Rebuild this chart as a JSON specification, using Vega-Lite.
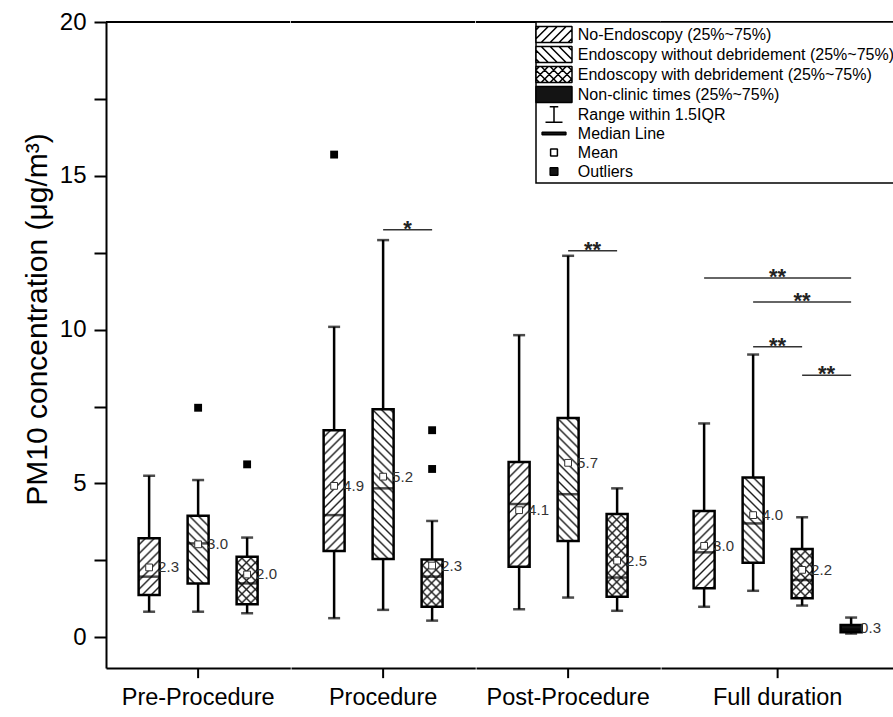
{
  "$schema": "https://vega.github.io/schema/vega-lite/v6.json",
  "background": "white",
  "padding": {"left": 22, "top": 10, "right": 0, "bottom": 0},
  "bounds": "flush",
  "params": [
    {"name": "hatch", "value": [
      {"offset": 0, "color": "rgba(30,30,30,0)"},
      {"offset": 0.022, "color": "rgba(30,30,30,0)"}, {"offset": 0.0312, "color": "#1e1e1e"}, {"offset": 0.04, "color": "rgba(30,30,30,0)"},
      {"offset": 0.062, "color": "rgba(30,30,30,0)"}, {"offset": 0.0712, "color": "#1e1e1e"}, {"offset": 0.08, "color": "rgba(30,30,30,0)"},
      {"offset": 0.102, "color": "rgba(30,30,30,0)"}, {"offset": 0.1112, "color": "#1e1e1e"}, {"offset": 0.12, "color": "rgba(30,30,30,0)"},
      {"offset": 0.142, "color": "rgba(30,30,30,0)"}, {"offset": 0.1512, "color": "#1e1e1e"}, {"offset": 0.16, "color": "rgba(30,30,30,0)"},
      {"offset": 0.182, "color": "rgba(30,30,30,0)"}, {"offset": 0.1912, "color": "#1e1e1e"}, {"offset": 0.2, "color": "rgba(30,30,30,0)"},
      {"offset": 0.222, "color": "rgba(30,30,30,0)"}, {"offset": 0.2312, "color": "#1e1e1e"}, {"offset": 0.24, "color": "rgba(30,30,30,0)"},
      {"offset": 0.262, "color": "rgba(30,30,30,0)"}, {"offset": 0.2712, "color": "#1e1e1e"}, {"offset": 0.28, "color": "rgba(30,30,30,0)"},
      {"offset": 0.302, "color": "rgba(30,30,30,0)"}, {"offset": 0.3112, "color": "#1e1e1e"}, {"offset": 0.32, "color": "rgba(30,30,30,0)"},
      {"offset": 0.342, "color": "rgba(30,30,30,0)"}, {"offset": 0.3512, "color": "#1e1e1e"}, {"offset": 0.36, "color": "rgba(30,30,30,0)"},
      {"offset": 0.382, "color": "rgba(30,30,30,0)"}, {"offset": 0.3912, "color": "#1e1e1e"}, {"offset": 0.4, "color": "rgba(30,30,30,0)"},
      {"offset": 0.422, "color": "rgba(30,30,30,0)"}, {"offset": 0.4312, "color": "#1e1e1e"}, {"offset": 0.44, "color": "rgba(30,30,30,0)"},
      {"offset": 0.462, "color": "rgba(30,30,30,0)"}, {"offset": 0.4712, "color": "#1e1e1e"}, {"offset": 0.48, "color": "rgba(30,30,30,0)"},
      {"offset": 0.502, "color": "rgba(30,30,30,0)"}, {"offset": 0.5112, "color": "#1e1e1e"}, {"offset": 0.52, "color": "rgba(30,30,30,0)"},
      {"offset": 0.542, "color": "rgba(30,30,30,0)"}, {"offset": 0.5512, "color": "#1e1e1e"}, {"offset": 0.56, "color": "rgba(30,30,30,0)"},
      {"offset": 0.582, "color": "rgba(30,30,30,0)"}, {"offset": 0.5912, "color": "#1e1e1e"}, {"offset": 0.6, "color": "rgba(30,30,30,0)"},
      {"offset": 0.622, "color": "rgba(30,30,30,0)"}, {"offset": 0.6312, "color": "#1e1e1e"}, {"offset": 0.64, "color": "rgba(30,30,30,0)"},
      {"offset": 0.662, "color": "rgba(30,30,30,0)"}, {"offset": 0.6712, "color": "#1e1e1e"}, {"offset": 0.68, "color": "rgba(30,30,30,0)"},
      {"offset": 0.702, "color": "rgba(30,30,30,0)"}, {"offset": 0.7112, "color": "#1e1e1e"}, {"offset": 0.72, "color": "rgba(30,30,30,0)"},
      {"offset": 0.742, "color": "rgba(30,30,30,0)"}, {"offset": 0.7512, "color": "#1e1e1e"}, {"offset": 0.76, "color": "rgba(30,30,30,0)"},
      {"offset": 0.782, "color": "rgba(30,30,30,0)"}, {"offset": 0.7912, "color": "#1e1e1e"}, {"offset": 0.8, "color": "rgba(30,30,30,0)"},
      {"offset": 0.822, "color": "rgba(30,30,30,0)"}, {"offset": 0.8312, "color": "#1e1e1e"}, {"offset": 0.84, "color": "rgba(30,30,30,0)"},
      {"offset": 0.862, "color": "rgba(30,30,30,0)"}, {"offset": 0.8712, "color": "#1e1e1e"}, {"offset": 0.88, "color": "rgba(30,30,30,0)"},
      {"offset": 0.902, "color": "rgba(30,30,30,0)"}, {"offset": 0.9112, "color": "#1e1e1e"}, {"offset": 0.92, "color": "rgba(30,30,30,0)"},
      {"offset": 0.942, "color": "rgba(30,30,30,0)"}, {"offset": 0.9512, "color": "#1e1e1e"}, {"offset": 0.96, "color": "rgba(30,30,30,0)"},
      {"offset": 0.982, "color": "rgba(30,30,30,0)"}, {"offset": 0.9912, "color": "#1e1e1e"}, {"offset": 1, "color": "rgba(30,30,30,0)"}
    ]}
  ],
  "data": {"values": [
    {"kind": "box", "period": "Pre-Procedure", "group": "No-Endoscopy", "lower": 0.83, "q1": 1.37, "median": 1.97, "q3": 3.22, "upper": 5.25, "mean": 2.27},
    {"kind": "box", "period": "Pre-Procedure", "group": "Endoscopy without debridement", "lower": 0.83, "q1": 1.75, "median": 3.05, "q3": 3.95, "upper": 5.11, "mean": 3.02},
    {"kind": "box", "period": "Pre-Procedure", "group": "Endoscopy with debridement", "lower": 0.78, "q1": 1.07, "median": 1.75, "q3": 2.62, "upper": 3.24, "mean": 2.04},
    {"kind": "box", "period": "Procedure", "group": "No-Endoscopy", "lower": 0.62, "q1": 2.8, "median": 3.97, "q3": 6.73, "upper": 10.09, "mean": 4.92},
    {"kind": "box", "period": "Procedure", "group": "Endoscopy without debridement", "lower": 0.89, "q1": 2.54, "median": 4.84, "q3": 7.41, "upper": 12.91, "mean": 5.22},
    {"kind": "box", "period": "Procedure", "group": "Endoscopy with debridement", "lower": 0.54, "q1": 0.99, "median": 1.97, "q3": 2.53, "upper": 3.78, "mean": 2.33},
    {"kind": "box", "period": "Post-Procedure", "group": "No-Endoscopy", "lower": 0.91, "q1": 2.29, "median": 4.33, "q3": 5.7, "upper": 9.82, "mean": 4.13},
    {"kind": "box", "period": "Post-Procedure", "group": "Endoscopy without debridement", "lower": 1.29, "q1": 3.13, "median": 4.65, "q3": 7.13, "upper": 12.4, "mean": 5.67},
    {"kind": "box", "period": "Post-Procedure", "group": "Endoscopy with debridement", "lower": 0.86, "q1": 1.32, "median": 1.94, "q3": 4.01, "upper": 4.84, "mean": 2.49},
    {"kind": "box", "period": "Full duration", "group": "No-Endoscopy", "lower": 0.99, "q1": 1.59, "median": 2.76, "q3": 4.1, "upper": 6.95, "mean": 2.97},
    {"kind": "box", "period": "Full duration", "group": "Endoscopy without debridement", "lower": 1.51, "q1": 2.42, "median": 3.7, "q3": 5.19, "upper": 9.19, "mean": 3.97},
    {"kind": "box", "period": "Full duration", "group": "Endoscopy with debridement", "lower": 1.03, "q1": 1.27, "median": 1.86, "q3": 2.87, "upper": 3.9, "mean": 2.19},
    {"kind": "box", "period": "Full duration", "group": "Non-clinic times", "lower": 0.12, "q1": 0.16, "median": 0.25, "q3": 0.4, "upper": 0.64, "mean": 0.29},
    {"kind": "outlier", "period": "Pre-Procedure", "group": "Endoscopy without debridement", "value": 7.46},
    {"kind": "outlier", "period": "Pre-Procedure", "group": "Endoscopy with debridement", "value": 5.62},
    {"kind": "outlier", "period": "Procedure", "group": "No-Endoscopy", "value": 15.69},
    {"kind": "outlier", "period": "Procedure", "group": "Endoscopy with debridement", "value": 6.73},
    {"kind": "outlier", "period": "Procedure", "group": "Endoscopy with debridement", "value": 5.47},
    {"kind": "sig", "pair": "s1", "period": "Procedure", "group": "Endoscopy without debridement", "level": 13.25},
    {"kind": "sig", "pair": "s1", "period": "Procedure", "group": "Endoscopy with debridement", "level": 13.25},
    {"kind": "sig", "pair": "s2", "period": "Post-Procedure", "group": "Endoscopy without debridement", "level": 12.56},
    {"kind": "sig", "pair": "s2", "period": "Post-Procedure", "group": "Endoscopy with debridement", "level": 12.56},
    {"kind": "sig", "pair": "s3", "period": "Full duration", "group": "No-Endoscopy", "level": 11.68},
    {"kind": "sig", "pair": "s3", "period": "Full duration", "group": "Non-clinic times", "level": 11.68},
    {"kind": "sig", "pair": "s4", "period": "Full duration", "group": "Endoscopy without debridement", "level": 10.9},
    {"kind": "sig", "pair": "s4", "period": "Full duration", "group": "Non-clinic times", "level": 10.9},
    {"kind": "sig", "pair": "s5", "period": "Full duration", "group": "Endoscopy without debridement", "level": 9.44},
    {"kind": "sig", "pair": "s5", "period": "Full duration", "group": "Endoscopy with debridement", "level": 9.44},
    {"kind": "sig", "pair": "s6", "period": "Full duration", "group": "Endoscopy with debridement", "level": 8.52},
    {"kind": "sig", "pair": "s6", "period": "Full duration", "group": "Non-clinic times", "level": 8.52},
    {"kind": "star", "period": "Procedure", "group": "Endoscopy without debridement", "to": "Endoscopy with debridement", "level": 13.25, "label": "*"},
    {"kind": "star", "period": "Post-Procedure", "group": "Endoscopy without debridement", "to": "Endoscopy with debridement", "level": 12.56, "label": "**"},
    {"kind": "star", "period": "Full duration", "group": "No-Endoscopy", "to": "Non-clinic times", "level": 11.68, "label": "**"},
    {"kind": "star", "period": "Full duration", "group": "Endoscopy without debridement", "to": "Non-clinic times", "level": 10.9, "label": "**"},
    {"kind": "star", "period": "Full duration", "group": "Endoscopy without debridement", "to": "Endoscopy with debridement", "level": 9.44, "label": "**"},
    {"kind": "star", "period": "Full duration", "group": "Endoscopy with debridement", "to": "Non-clinic times", "level": 8.52, "label": "**"}
  ]},
  "facet": {
    "column": {
      "field": "period", "type": "nominal",
      "sort": ["Pre-Procedure", "Procedure", "Post-Procedure", "Full duration"],
      "header": {"title": null, "labelOrient": "bottom", "labelFontSize": 23.5, "labelFont": "Liberation Sans", "labelColor": "black", "labelPadding": 18}
    }
  },
  "spacing": 0,
  "resolve": {"scale": {"x": "independent"}},
  "spec": {
    "width": {"step": 49},
    "height": 646,
    "layer": [
      {
        "transform": [{"filter": "datum.kind === 'box'"}],
        "mark": {"type": "rule", "strokeWidth": 2.5, "color": "black"},
        "encoding": {
          "x": {"field": "group", "type": "nominal", "sort": ["No-Endoscopy", "Endoscopy without debridement", "Endoscopy with debridement", "Non-clinic times"], "title": null,
                "scale": {"paddingInner": 0, "paddingOuter": 0.38},
                "axis": {"labels": false, "ticks": false, "title": null, "domainWidth": 2, "domainColor": "black"}},
          "y": {"field": "lower", "type": "quantitative", "title": "PM10 concentration (μg/m³)",
                "scale": {"domain": [-1, 20], "nice": false, "zero": false},
                "axis": {"values": [0, 2.5, 5, 7.5, 10, 12.5, 15, 17.5, 20], "labelExpr": "datum.value % 5 === 0 ? datum.label : ''",
                         "tickSize": 12, "tickWidth": 2, "tickColor": "black", "domainWidth": 2, "domainColor": "black",
                         "labelFontSize": 24, "labelPadding": 8, "labelColor": "black", "labelFont": "Liberation Sans",
                         "titleFontSize": 30, "titleFontWeight": "normal", "titleColor": "black", "titleFont": "Liberation Sans", "titlePadding": 7, "titleY": 297, "grid": false}},
          "y2": {"field": "upper"}
        }
      },
      {
        "transform": [{"filter": "datum.kind === 'box'"}],
        "mark": {"type": "tick", "size": 12, "thickness": 2.5, "color": "black"},
        "encoding": {
          "x": {"field": "group", "type": "nominal", "sort": ["No-Endoscopy", "Endoscopy without debridement", "Endoscopy with debridement", "Non-clinic times"], "title": null},
          "y": {"field": "lower", "type": "quantitative"}
        }
      },
      {
        "transform": [{"filter": "datum.kind === 'box'"}],
        "mark": {"type": "tick", "size": 12, "thickness": 2.5, "color": "black"},
        "encoding": {
          "x": {"field": "group", "type": "nominal", "sort": ["No-Endoscopy", "Endoscopy without debridement", "Endoscopy with debridement", "Non-clinic times"], "title": null},
          "y": {"field": "upper", "type": "quantitative"}
        }
      },
      {
        "transform": [{"filter": "datum.kind === 'box'"}],
        "mark": {"type": "bar", "size": 21},
        "encoding": {
          "x": {"field": "group", "type": "nominal", "sort": ["No-Endoscopy", "Endoscopy without debridement", "Endoscopy with debridement", "Non-clinic times"], "title": null},
          "y": {"field": "q1", "type": "quantitative"},
          "y2": {"field": "q3"},
          "fill": {"condition": {"test": "datum.group === 'Non-clinic times'", "value": "#141414"}, "value": "white"}
        }
      },
      {
        "transform": [{"filter": "datum.kind === 'box' && (datum.group === 'No-Endoscopy' || datum.group === 'Endoscopy with debridement')"}],
        "mark": {"type": "bar", "size": 21},
        "encoding": {
          "x": {"field": "group", "type": "nominal", "sort": ["No-Endoscopy", "Endoscopy without debridement", "Endoscopy with debridement", "Non-clinic times"], "title": null},
          "y": {"field": "q1", "type": "quantitative"},
          "y2": {"field": "q3"},
          "fill": {"value": {"expr": "{gradient: 'linear', x1: 0, y1: 0, x2: 21*222.7/(441+pow((datum.q3-datum.q1)*30.78,2)), y2: (datum.q3-datum.q1)*30.78*222.7/(441+pow((datum.q3-datum.q1)*30.78,2)), stops: hatch}"}}
        }
      },
      {
        "transform": [{"filter": "datum.kind === 'box' && (datum.group === 'Endoscopy without debridement' || datum.group === 'Endoscopy with debridement')"}],
        "mark": {"type": "bar", "size": 21},
        "encoding": {
          "x": {"field": "group", "type": "nominal", "sort": ["No-Endoscopy", "Endoscopy without debridement", "Endoscopy with debridement", "Non-clinic times"], "title": null},
          "y": {"field": "q1", "type": "quantitative"},
          "y2": {"field": "q3"},
          "fill": {"value": {"expr": "{gradient: 'linear', x1: 0, y1: 1, x2: 21*222.7/(441+pow((datum.q3-datum.q1)*30.78,2)), y2: 1-(datum.q3-datum.q1)*30.78*222.7/(441+pow((datum.q3-datum.q1)*30.78,2)), stops: hatch}"}}
        }
      },
      {
        "transform": [{"filter": "datum.kind === 'box'"}],
        "mark": {"type": "bar", "size": 21, "fill": "transparent", "stroke": "black", "strokeWidth": 2.5},
        "encoding": {
          "x": {"field": "group", "type": "nominal", "sort": ["No-Endoscopy", "Endoscopy without debridement", "Endoscopy with debridement", "Non-clinic times"], "title": null},
          "y": {"field": "q1", "type": "quantitative"},
          "y2": {"field": "q3"}
        }
      },
      {
        "transform": [{"filter": "datum.kind === 'box'"}],
        "mark": {"type": "tick", "size": 21, "thickness": 2.5, "color": "black"},
        "encoding": {
          "x": {"field": "group", "type": "nominal", "sort": ["No-Endoscopy", "Endoscopy without debridement", "Endoscopy with debridement", "Non-clinic times"], "title": null},
          "y": {"field": "median", "type": "quantitative"}
        }
      },
      {
        "transform": [{"filter": "datum.kind === 'box' && datum.group !== 'Non-clinic times'"}],
        "mark": {"type": "point", "shape": "square", "size": 46, "filled": true, "fill": "white", "stroke": "#333333", "strokeWidth": 1, "opacity": 1},
        "encoding": {
          "x": {"field": "group", "type": "nominal", "sort": ["No-Endoscopy", "Endoscopy without debridement", "Endoscopy with debridement", "Non-clinic times"], "title": null},
          "y": {"field": "mean", "type": "quantitative"}
        }
      },
      {
        "transform": [{"filter": "datum.kind === 'box'"}],
        "mark": {"type": "text", "align": "left", "baseline": "middle", "dx": 9, "fontSize": 15, "font": "Liberation Sans", "color": "#333333"},
        "encoding": {
          "x": {"field": "group", "type": "nominal", "sort": ["No-Endoscopy", "Endoscopy without debridement", "Endoscopy with debridement", "Non-clinic times"], "title": null},
          "y": {"field": "mean", "type": "quantitative"},
          "text": {"field": "mean", "type": "quantitative", "format": ".1f"}
        }
      },
      {
        "transform": [{"filter": "datum.kind === 'outlier'"}],
        "mark": {"type": "point", "shape": "square", "size": 62, "filled": true, "color": "black", "opacity": 1},
        "encoding": {
          "x": {"field": "group", "type": "nominal", "sort": ["No-Endoscopy", "Endoscopy without debridement", "Endoscopy with debridement", "Non-clinic times"], "title": null},
          "y": {"field": "value", "type": "quantitative"}
        }
      },
      {
        "transform": [{"filter": "datum.kind === 'sig'"}],
        "mark": {"type": "line", "color": "#333333", "strokeWidth": 1.5},
        "encoding": {
          "x": {"field": "group", "type": "nominal", "sort": ["No-Endoscopy", "Endoscopy without debridement", "Endoscopy with debridement", "Non-clinic times"], "title": null, "bandPosition": 0.5},
          "y": {"field": "level", "type": "quantitative"},
          "detail": {"field": "pair", "type": "nominal"}
        }
      },
      {
        "transform": [{"filter": "datum.kind === 'star' && !(datum.to === 'Non-clinic times' && datum.group !== 'Endoscopy with debridement')"}],
        "mark": {"type": "text", "align": "center", "baseline": "alphabetic", "dy": 6, "fontSize": 22, "fontWeight": "bold", "font": "Liberation Sans", "color": "#222222"},
        "encoding": {
          "x": {"field": "group", "type": "nominal", "sort": ["No-Endoscopy", "Endoscopy without debridement", "Endoscopy with debridement", "Non-clinic times"], "title": null, "bandPosition": 1},
          "y": {"field": "level", "type": "quantitative"},
          "text": {"field": "label"}
        }
      },
      {
        "transform": [{"filter": "datum.kind === 'star' && datum.group === 'No-Endoscopy'"}],
        "mark": {"type": "text", "align": "center", "baseline": "alphabetic", "dy": 6, "fontSize": 22, "fontWeight": "bold", "font": "Liberation Sans", "color": "#222222"},
        "encoding": {
          "x": {"field": "group", "type": "nominal", "sort": ["No-Endoscopy", "Endoscopy without debridement", "Endoscopy with debridement", "Non-clinic times"], "title": null, "bandPosition": 2},
          "y": {"field": "level", "type": "quantitative"},
          "text": {"field": "label"}
        }
      },
      {
        "transform": [{"filter": "datum.kind === 'star' && datum.group === 'Endoscopy without debridement' && datum.to === 'Non-clinic times'"}],
        "mark": {"type": "text", "align": "center", "baseline": "alphabetic", "dy": 6, "fontSize": 22, "fontWeight": "bold", "font": "Liberation Sans", "color": "#222222"},
        "encoding": {
          "x": {"field": "group", "type": "nominal", "sort": ["No-Endoscopy", "Endoscopy without debridement", "Endoscopy with debridement", "Non-clinic times"], "title": null, "bandPosition": 1.5},
          "y": {"field": "level", "type": "quantitative"},
          "text": {"field": "label"}
        }
      },
      {
        "transform": [{"filter": "datum.kind === 'box' && datum.group === 'Endoscopy without debridement' && datum.period !== 'Full duration'"}],
        "mark": {"type": "rule", "strokeWidth": 2, "color": "black"},
        "encoding": {
          "x": {"field": "group", "type": "nominal", "sort": ["No-Endoscopy", "Endoscopy without debridement", "Endoscopy with debridement", "Non-clinic times"], "title": null, "bandPosition": 0.5},
          "y": {"datum": -1, "type": "quantitative", "scale": {"domain": [-1, 20], "nice": false, "zero": false}},
          "y2": {"datum": -1.33}
        }
      },
      {
        "transform": [{"filter": "datum.kind === 'box' && datum.group === 'Endoscopy without debridement' && datum.period === 'Full duration'"}],
        "mark": {"type": "rule", "strokeWidth": 2, "color": "black"},
        "encoding": {
          "x": {"field": "group", "type": "nominal", "sort": ["No-Endoscopy", "Endoscopy without debridement", "Endoscopy with debridement", "Non-clinic times"], "title": null, "bandPosition": 1},
          "y": {"datum": -1, "type": "quantitative", "scale": {"domain": [-1, 20], "nice": false, "zero": false}},
          "y2": {"datum": -1.33}
        }
      },
      {
        "transform": [{"filter": "datum.kind === 'box' && datum.group === 'No-Endoscopy'"}],
        "mark": {"type": "rule", "strokeWidth": 2, "color": "black"},
        "encoding": {
          "y": {"datum": 20, "type": "quantitative", "scale": {"domain": [-1, 20], "nice": false, "zero": false}}
        }
      },
      {
        "transform": [{"filter": "datum.kind === 'box'"}],
        "mark": {"type": "point", "size": 0, "opacity": 0},
        "encoding": {
          "x": {"field": "group", "type": "nominal", "sort": ["No-Endoscopy", "Endoscopy without debridement", "Endoscopy with debridement", "Non-clinic times"], "title": null},
          "y": {"field": "median", "type": "quantitative"},
          "color": {
            "field": "group", "type": "nominal",
            "scale": {
              "domain": ["No-Endoscopy", "Endoscopy without debridement", "Endoscopy with debridement", "Non-clinic times", "Range within 1.5IQR", "Median Line", "Mean", "Outliers"],
              "range": ["black", "black", "black", "black", "black", "black", "black", "black"]
            },
            "legend": {
              "title": null, "orient": "none", "legendX": 430, "legendY": 0,
              "padding": 3, "strokeColor": "black", "fillColor": "white",
              "rowPadding": 1, "symbolOffset": 5.5, "labelOffset": 14.3,
              "labelFontSize": 16, "labelFont": "Liberation Sans", "labelColor": "black", "labelLimit": 600,
              "symbolSize": 289, "symbolStrokeWidth": 1.5, "symbolStrokeColor": "black", "symbolOpacity": 1,
              "labelExpr": "datum.index < 4 ? datum.label + ' (25%~75%)' : datum.label",
              "encoding": {
                "symbols": {
                  "shape": {"value": {"expr": "datum.value === 'No-Endoscopy' ? 'M-2.118,-0.941H2.118V0.941H-2.118Z M-2.118,-0.541L-1.718,-0.941 M-2.118,0.507L-0.67,-0.941 M-1.504,0.941L0.378,-0.941 M-0.456,0.941L1.426,-0.941 M0.592,0.941L2.118,-0.585 M1.64,0.941L2.118,0.463' : datum.value === 'Endoscopy without debridement' ? 'M-2.118,-0.941H2.118V0.941H-2.118Z M-2.118,0.541L-1.718,0.941 M-2.118,-0.507L-0.67,0.941 M-1.504,-0.941L0.378,0.941 M-0.456,-0.941L1.426,0.941 M0.592,-0.941L2.118,0.585 M1.64,-0.941L2.118,-0.463' : datum.value === 'Endoscopy with debridement' ? 'M-2.118,-0.941H2.118V0.941H-2.118Z M-2.118,-0.541L-1.718,-0.941 M-2.118,0.507L-0.67,-0.941 M-1.504,0.941L0.378,-0.941 M-0.456,0.941L1.426,-0.941 M0.592,0.941L2.118,-0.585 M1.64,0.941L2.118,0.463 M-2.118,0.541L-1.718,0.941 M-2.118,-0.507L-0.67,0.941 M-1.504,-0.941L0.378,0.941 M-0.456,-0.941L1.426,0.941 M0.592,-0.941L2.118,0.585 M1.64,-0.941L2.118,-0.463' : datum.value === 'Non-clinic times' ? 'M-2.118,-0.941H2.118V0.941H-2.118Z' : datum.value === 'Range within 1.5IQR' ? 'M-0.5,-0.9H0.5M0,-0.9V0.9M-1,0.9H1' : datum.value === 'Median Line' ? 'M-1.4,-0.14H1.4V0.14H-1.4Z' : datum.value === 'Mean' ? 'M-0.4,-0.4H0.4V0.4H-0.4Z' : 'M-0.45,-0.45H0.45V0.45H-0.45Z'"}},
                  "fill": {"value": {"expr": "datum.value === 'Non-clinic times' || datum.value === 'Outliers' || datum.value === 'Median Line' ? '#141414' : datum.value === 'Range within 1.5IQR' ? 'transparent' : 'white'"}},
                  "stroke": {"value": "black"},
                  "strokeJoin": {"value": "bevel"},
                  "opacity": {"value": 1}
                }
              }
            }
          }
        }
      }
    ]
  },
  "config": {
    "font": "Liberation Sans",
    "view": {"stroke": null},
    "axis": {"grid": false},
    "legend": {"strokeWidth": 1.5}
  }
}
